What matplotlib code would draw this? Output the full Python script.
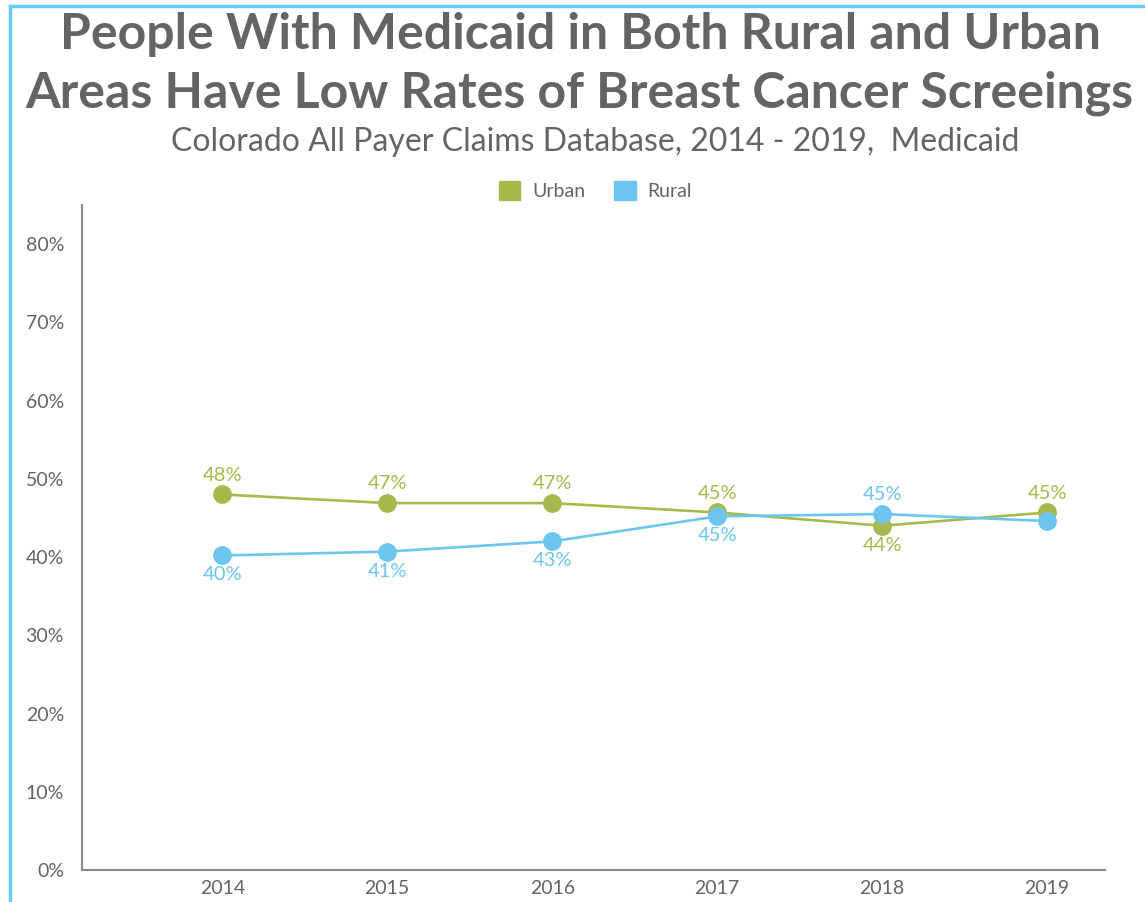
import matplotlib
matplotlib.use("Agg")
from matplotlib import pyplot as plt
from matplotlib.lines import Line2D
from matplotlib.patches import Patch

plt.rcParams['font.family'] = ['Lato', 'DejaVu Sans']

# data
years = ["2014", "2015", "2016", "2017", "2018", "2019"]
urban = [48.0, 46.9, 46.9, 45.7, 44.0, 45.7]
rural = [40.2, 40.7, 42.0, 45.2, 45.5, 44.6]
urban_labels = ["48%", "47%", "47%", "45%", "44%", "45%"]
rural_labels = ["40%", "41%", "43%", "45%", "45%", ""]
y_ticks = [0, 10, 20, 30, 40, 50, 60, 70, 80]

green = "#a9b84a"
blue = "#6cc5ee"
gray = "#646467"

fig = plt.figure(figsize=(11.45, 9.02), dpi=100)
ax = fig.add_axes([0.0716, 0.0355, 0.8934, 0.7372])

x = list(range(len(years)))
ax.plot(x, urban, color=green, lw=1.9, marker="o", ms=12.5, zorder=3)
ax.plot(x, rural, color=blue, lw=1.9, marker="o", ms=12.5, zorder=4)

# label placement: +1 above the point, -1 below
urban_side = [1, 1, 1, 1, -1, 1]
rural_side = [-1, -1, -1, -1, 1, -1]
for i in x:
    ax.annotate(urban_labels[i], (i, urban[i]), xytext=(0, 14 * urban_side[i]),
                textcoords="offset points", ha="center", va="center",
                color=green, fontsize=14.5)
    if rural_labels[i]:
        ax.annotate(rural_labels[i], (i, rural[i]), xytext=(0, 14 * rural_side[i]),
                    textcoords="offset points", ha="center", va="center",
                    color=blue, fontsize=14.5)

ax.set_xlim(-0.85, 5.35)
ax.set_ylim(0, 85)
ax.set_xticks(x)
ax.set_xticklabels(years)
ax.set_yticks(y_ticks)
ax.set_yticklabels([f"{t}%" for t in y_ticks])
ax.tick_params(length=0, labelsize=14, labelcolor=gray)
ax.tick_params(axis="x", pad=7)
ax.tick_params(axis="y", pad=13)
for s in ["top", "right"]:
    ax.spines[s].set_visible(False)
for s in ["left", "bottom"]:
    ax.spines[s].set_color("#8a8a8a")
    ax.spines[s].set_linewidth(1.5)

# titles
fig.text(0.507, 0.962, "People With Medicaid in Both Rural and Urban",
         ha="center", va="center", fontsize=36, fontweight="bold", color=gray)
fig.text(0.506, 0.897, "Areas Have Low Rates of Breast Cancer Screeings",
         ha="center", va="center", fontsize=36, fontweight="bold", color=gray)
fig.text(0.52, 0.843, "Colorado All Payer Claims Database, 2014 - 2019,  Medicaid",
         ha="center", va="center", fontsize=23, color=gray)

handles = [Patch(color=green, label="Urban"), Patch(color=blue, label="Rural")]
fig.legend(handles=handles, loc="center", bbox_to_anchor=(0.52, 0.789), ncol=2,
           frameon=False, fontsize=14, labelcolor=gray, handlelength=1.1,
           handleheight=1.1, columnspacing=1.5, handletextpad=0.6)

# light blue frame on left and top
border = "#66ccff"
fig.add_artist(Line2D([0.009, 0.009], [0, 0.993], color=border, lw=2.5,
                      transform=fig.transFigure))
fig.add_artist(Line2D([0.009, 1], [0.993, 0.993], color=border, lw=2.5,
                      transform=fig.transFigure))

fig.savefig("out.png", dpi=100)
